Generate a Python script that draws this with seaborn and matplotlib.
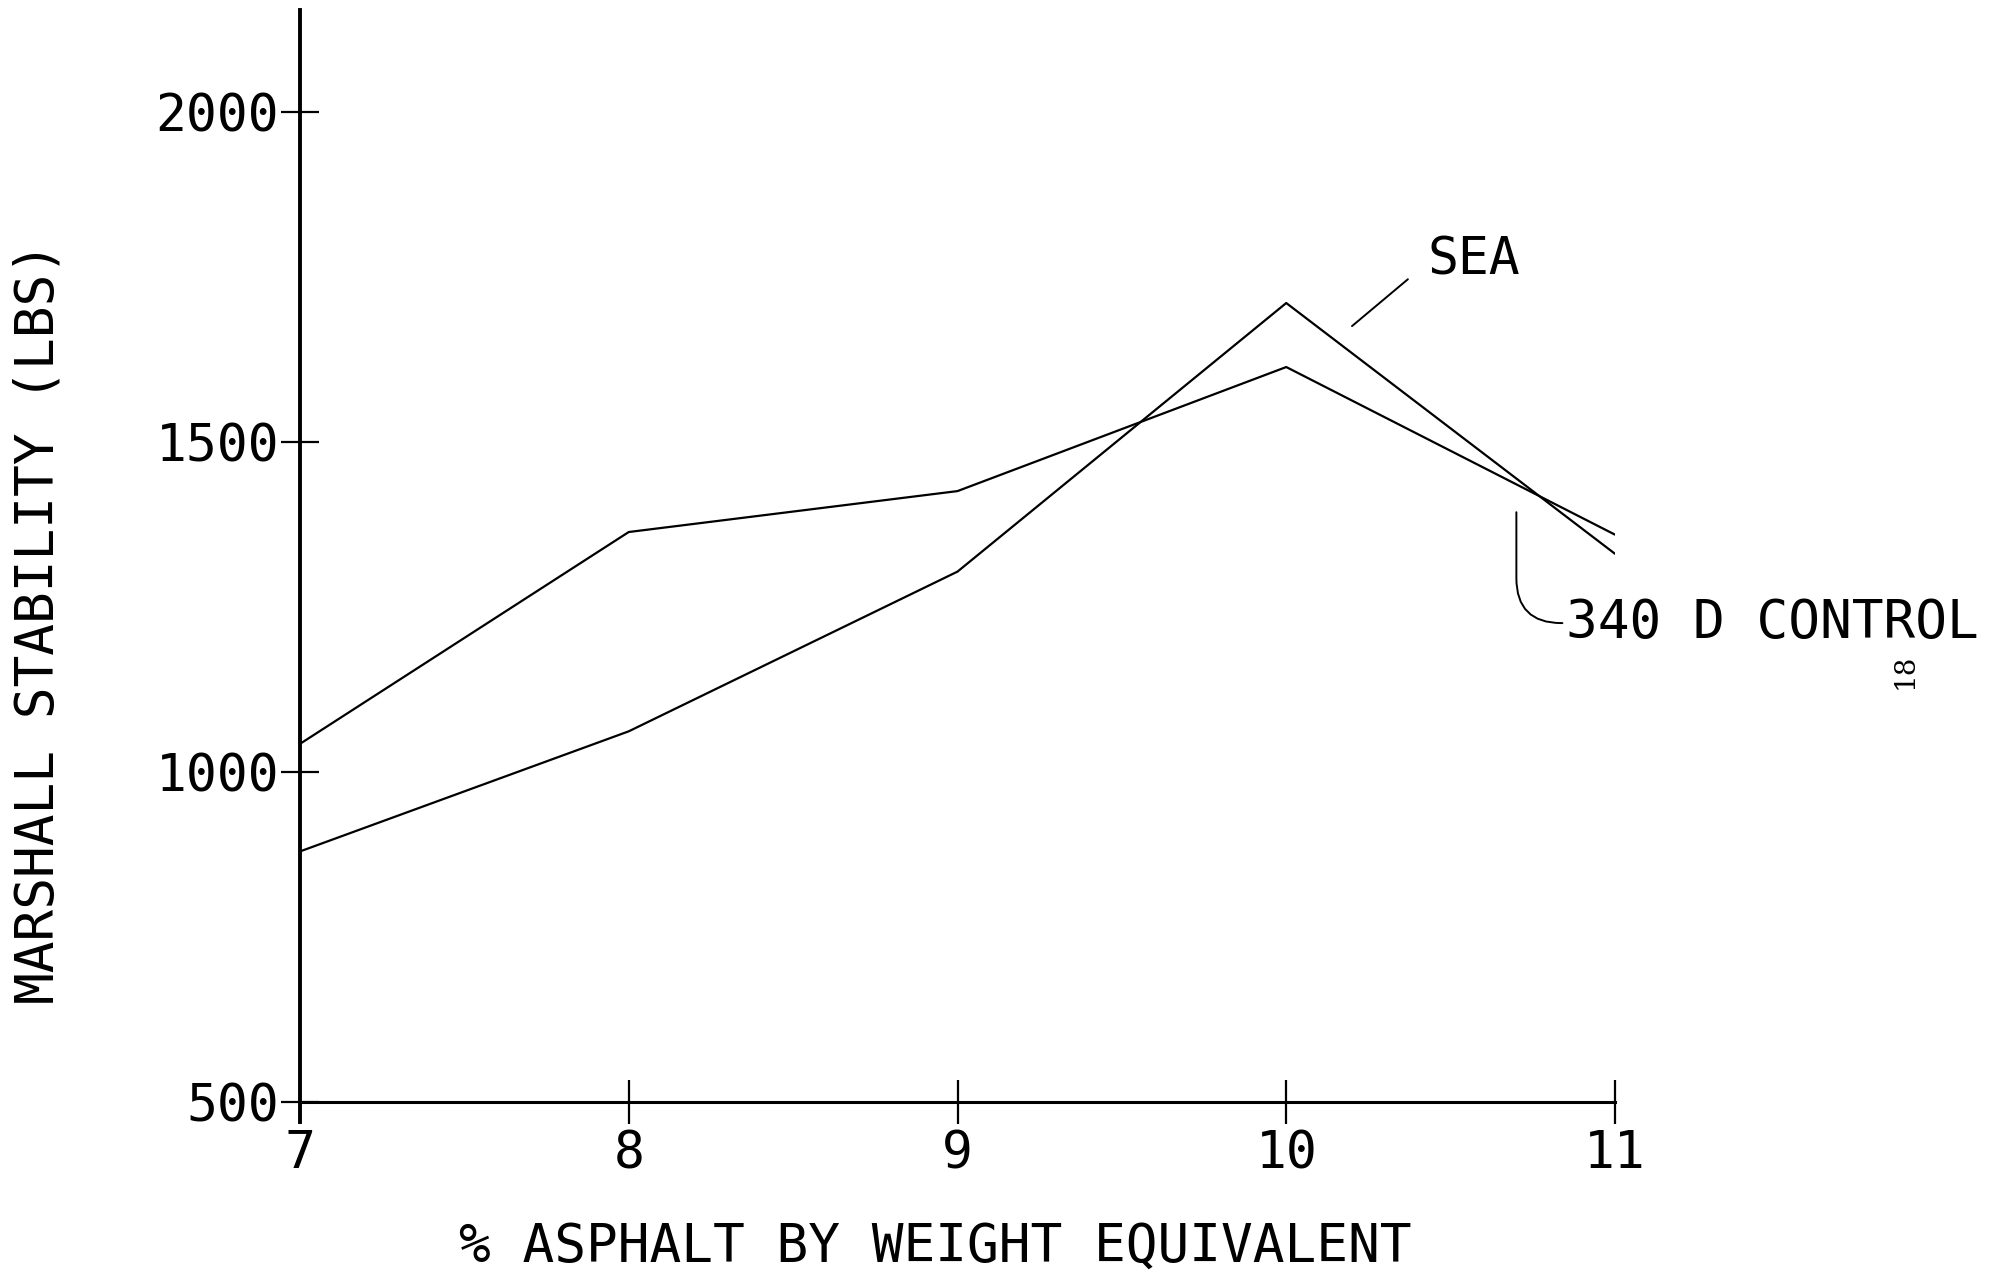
import matplotlib
matplotlib.use("Agg")
import matplotlib.pyplot as plt
import seaborn as sns
import pandas as pd

# ---- data ----
asphalt_pct = [7, 8, 9, 10, 11]
sea_values = [880, 1062, 1304, 1711, 1331]
control_values = [1043, 1364, 1426, 1614, 1360]
series_names = ["SEA", "340 D CONTROL"]
y_ticks = [500, 1000, 1500, 2000]
x_ticks = [7, 8, 9, 10, 11]

df = pd.DataFrame({
    "pct": asphalt_pct * 2,
    "stability": sea_values + control_values,
    "series": [series_names[0]] * len(asphalt_pct) + [series_names[1]] * len(asphalt_pct),
})

sns.set_theme(style="white")
plt.rcParams["font.family"] = ["DejaVu Sans Mono", "DejaVu Sans"]

fig = plt.figure(figsize=(20.05, 12.79), dpi=100)
ax = fig.add_axes([300 / 2005, 1 - 1122 / 1279, (1615 - 300) / 2005, (1122 - 10) / 1279])

sns.lineplot(data=df, x="pct", y="stability", hue="series",
             palette=["black", "black"], linewidth=1.6, legend=False, ax=ax)

ax.set_xlim(7, 11)
ax.set_ylim(470, 2155)
for s in ["top", "right"]:
    ax.spines[s].set_visible(False)
ax.spines["bottom"].set_position(("data", 500))
ax.spines["left"].set_linewidth(2.8)
ax.spines["bottom"].set_linewidth(2.2)
ax.spines["left"].set_color("black")
ax.spines["bottom"].set_color("black")

ax.set_xticks(x_ticks)
ax.set_xticklabels([str(v) for v in x_ticks])
ax.set_yticks(y_ticks)
ax.set_yticklabels([str(v) for v in y_ticks])
ax.tick_params(axis="x", bottom=True, direction="inout", length=31, width=1.6, color="black",
               labelsize=37, pad=4, labelcolor="black")
ax.tick_params(axis="y", left=True, direction="inout", length=28, width=1.6, color="black",
               labelsize=37, pad=1, labelcolor="black")
ax.grid(False)

ax.set_xlabel("% ASPHALT BY WEIGHT EQUIVALENT", fontsize=38, color="black")
ax.xaxis.set_label_coords(0.483, -0.1124)
ax.xaxis.label.set_va("center")
ax.set_ylabel("MARSHALL STABILITY (LBS)", fontsize=38, color="black")
ax.yaxis.set_label_coords(-0.199, 0.449)
ax.yaxis.label.set_va("center")

# SEA label and leader
ax.annotate("", xy=(10.20, 1676), xytext=(10.37, 1747),
            arrowprops=dict(arrowstyle="-", lw=1.4, color="black", shrinkA=0, shrinkB=0))
ax.text(10.43, 1776, series_names[0], fontsize=37, ha="left", va="center", color="black")

# 340 D CONTROL label and curved leader
ax.annotate(series_names[1], xy=(10.70, 1394), xytext=(10.85, 1226),
            fontsize=38, ha="left", va="center", color="black", annotation_clip=False,
            arrowprops=dict(arrowstyle="-", lw=1.4, color="black", shrinkA=0, shrinkB=0,
                            relpos=(0, 0.5),
                            connectionstyle="angle,angleA=0,angleB=90,rad=45"))

# page number
fig.text(1905 / 2005, 1 - 671 / 1279, "18", rotation=90, fontsize=20,
         ha="center", va="center", family="DejaVu Serif", color="black")

fig.savefig("out.png", dpi=100, facecolor="white")
